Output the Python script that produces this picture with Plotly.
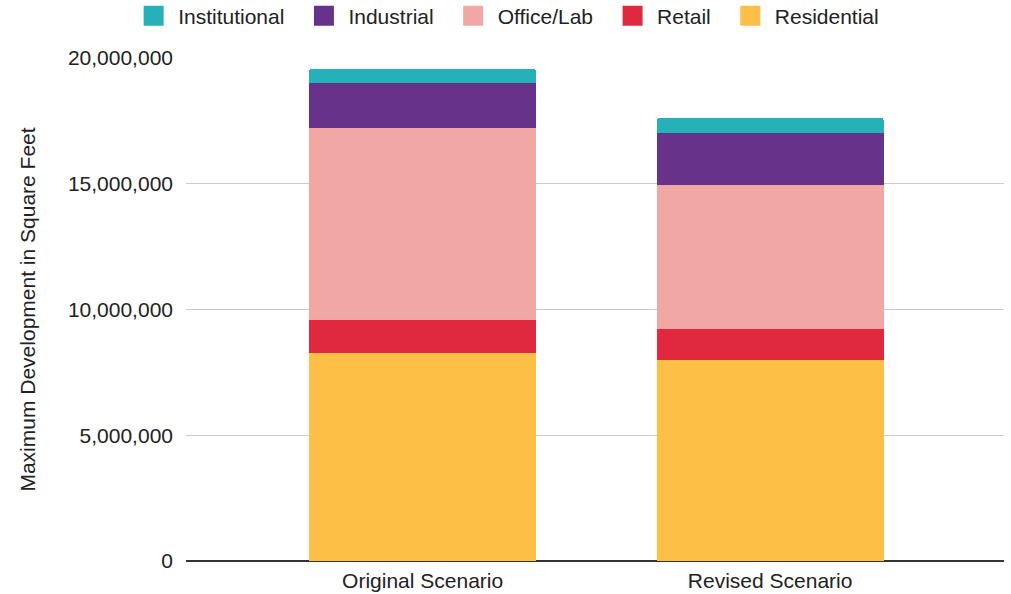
import plotly.graph_objects as go

categories = ["Original Scenario", "Revised Scenario"]
residential = [8260000, 7980000]
retail = [1340000, 1260000]
office_lab = [7610000, 5730000]
industrial = [1810000, 2030000]
institutional = [560000, 620000]

series = [
    ("Residential", residential, "#fdbf45"),
    ("Retail", retail, "#e0293e"),
    ("Office/Lab", office_lab, "#f1a8a4"),
    ("Industrial", industrial, "#67338a"),
    ("Institutional", institutional, "#26b0b8"),
]

fig = go.Figure()
for name, vals, color in series:
    fig.add_trace(go.Bar(name=name, x=categories, y=vals, marker_color=color,
                         marker_line_width=0, width=0.653, showlegend=False,
                         legendgroup=name))

# legend entries with larger square swatches
for name, vals, color in reversed(series):
    fig.add_trace(go.Scatter(name=name + "\u00a0\u2009", x=[None], y=[None], mode="markers",
                             marker=dict(symbol="square", size=16, color=color,
                                         line=dict(width=4, color=color)),
                             legendgroup=name, showlegend=True))

fnt = "Arial, Liberation Sans, sans-serif"
fig.update_layout(
    barmode="stack",
    barcornerradius=3,
    width=1011, height=594,
    margin=dict(l=186, r=7, t=58, b=33, autoexpand=False),
    paper_bgcolor="white", plot_bgcolor="white",
    font=dict(family=fnt, size=21, color="#222"),
    legend=dict(orientation="h", traceorder="normal", x=-0.0695, xanchor="left",
                y=1.0835, yanchor="middle", font=dict(size=21, color="#222"),
                itemsizing="trace", itemwidth=39, borderwidth=0),
    xaxis=dict(range=[-0.681, 1.673], showgrid=False, ticks="", automargin=False,
               ticklabelstandoff=5, tickfont=dict(size=21, color="#222")),
    yaxis=dict(range=[0, 20000000], tickvals=[0, 5000000, 10000000, 15000000, 20000000],
               tickformat=",", gridcolor="#cccccc", gridwidth=1, automargin=False,
               zeroline=True, zerolinecolor="#333333", zerolinewidth=1.5,
               ticklabelstandoff=12, tickfont=dict(size=21, color="#222"),
               title=dict(text="Maximum Development in Square Feet", standoff=26,
                          font=dict(size=21, color="#222"))),
)

fig.write_html("out.html", config={"displayModeBar": False},
               post_script="document.body.style.margin='0';")
